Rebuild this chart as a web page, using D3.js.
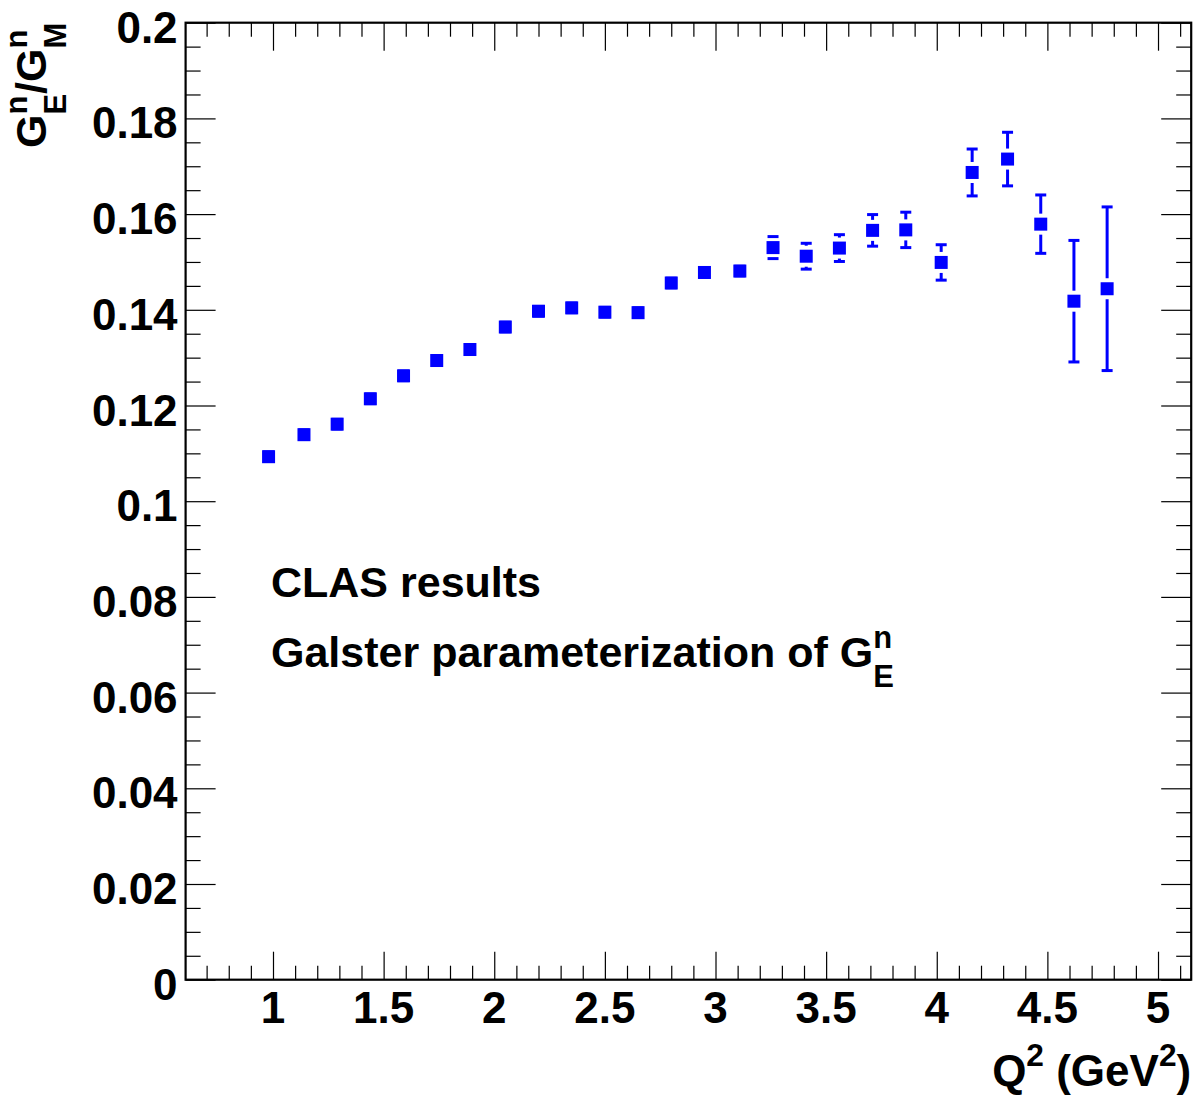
<!DOCTYPE html>
<html>
<head>
<meta charset="utf-8">
<script src="https://cdn.jsdelivr.net/npm/d3@7"></script>
<style>
  html, body { margin: 0; padding: 0; background: #fff; }
  svg text { font-family: "Liberation Sans", Arial, Helvetica, sans-serif; font-weight: bold; fill: #000; white-space: pre; }
</style>
</head>
<body>
<div id="chart"></div>
<script>
// ── Data: CLAS G_E^n / G_M^n ratio (Galster parameterization) ─────────────
const q2    = [0.98, 1.14, 1.29, 1.44, 1.59, 1.74, 1.89, 2.05, 2.20, 2.35, 2.50, 2.65, 2.80,
               2.95, 3.11, 3.26, 3.41, 3.56, 3.71, 3.86, 4.02, 4.16, 4.32, 4.47, 4.62, 4.77];
const ratio = [0.1093, 0.1139, 0.1161, 0.1214, 0.1262, 0.1294, 0.1317, 0.1364, 0.1397, 0.1404,
               0.1395, 0.1394, 0.1456, 0.1478, 0.1481, 0.1530, 0.1512, 0.1529, 0.1566, 0.1567,
               0.1499, 0.1687, 0.1715, 0.1579, 0.1418, 0.1444];
const err   = [0.001, 0.001, 0.001, 0.001, 0.001, 0.001, 0.001, 0.001, 0.001, 0.001,
               0.001, 0.001, 0.001, 0.001, 0.001, 0.0023, 0.0027, 0.0028, 0.0033, 0.0037,
               0.0037, 0.0049, 0.0056, 0.0061, 0.0127, 0.0171];

const xMajor = [1, 1.5, 2, 2.5, 3, 3.5, 4, 4.5, 5];
const yMajor = [0, 0.02, 0.04, 0.06, 0.08, 0.1, 0.12, 0.14, 0.16, 0.18, 0.2];
const xMinor = d3.range(7, 52).map(i => i / 10).filter(v => Math.abs(v * 2 - Math.round(v * 2)) > 1e-6);
const yMinor = d3.range(1, 40).map(i => i * 0.005).filter(v => Math.abs(v * 50 - Math.round(v * 50)) > 1e-6);

// ── Layout ────────────────────────────────────────────────────────────────
const W = 1196, H = 1101;
const L = 185.6, R = 1191.2, T = 22.7, B = 979.7;
const BLUE = '#0000ff';

const x = d3.scaleLinear().domain([0.605, 5.15]).range([L, R]);
const y = d3.scaleLinear().domain([0, 0.2]).range([B, T]);

const svg = d3.select('#chart').append('svg')
  .attr('width', W).attr('height', H);

// ── Ticks (inward, on all four sides) ─────────────────────────────────────
function ticks(axisFn, scale, vals, size, tr) {
  const g = svg.append('g').attr('transform', tr)
    .call(axisFn(scale).tickValues(vals).tickSize(size).tickFormat(''));
  g.select('.domain').remove();
  g.selectAll('.tick line').attr('stroke', '#000').attr('stroke-width', 1.2);
  return g;
}
ticks(d3.axisBottom, x, xMajor, -28, `translate(0,${B})`);
ticks(d3.axisBottom, x, xMinor, -14, `translate(0,${B})`);
ticks(d3.axisTop,    x, xMajor, -28, `translate(0,${T})`);
ticks(d3.axisTop,    x, xMinor, -14, `translate(0,${T})`);
ticks(d3.axisLeft,   y, yMajor, -30, `translate(${L},0)`);
ticks(d3.axisLeft,   y, yMinor, -15, `translate(${L},0)`);
ticks(d3.axisRight,  y, yMajor, -30, `translate(${R},0)`);
ticks(d3.axisRight,  y, yMinor, -15, `translate(${R},0)`);

// frame
svg.append('rect')
  .attr('x', L).attr('y', T).attr('width', R - L).attr('height', B - T)
  .attr('fill', 'none').attr('stroke', '#000').attr('stroke-width', 2.2);

// ── Tick labels ───────────────────────────────────────────────────────────
svg.append('g').selectAll('text').data(xMajor).join('text')
  .attr('x', d => x(d)).attr('y', B + 43)
  .attr('text-anchor', 'middle').attr('font-size', 44)
  .text(d => d3.format('')(d));

svg.append('g').selectAll('text').data(yMajor).join('text')
  .attr('x', L - 8).attr('y', d => y(d) + 20)
  .attr('text-anchor', 'end').attr('font-size', 44)
  .text(d => d3.format('')(d));

// ── Simple TLatex-like text: main runs plus stacked sup/sub ───────────────
function latex(g, parts, size) {
  let cx = 0;
  const small = size * 0.72;
  parts.forEach(p => {
    if (p.t != null) {
      const t = g.append('text').attr('x', cx).attr('y', 0).attr('font-size', size).text(p.t);
      cx += t.node().getComputedTextLength();
    } else {
      let w = 0;
      if (p.sup) {
        const t = g.append('text').attr('x', cx).attr('y', -size * 0.44)
          .attr('font-size', small).text(p.sup);
        w = Math.max(w, t.node().getComputedTextLength());
      }
      if (p.sub) {
        const t = g.append('text').attr('x', cx).attr('y', size * 0.47)
          .attr('font-size', small).text(p.sub);
        w = Math.max(w, t.node().getComputedTextLength());
      }
      cx += w;
    }
  });
  return cx;
}

// x-axis title, right aligned to the frame
const xt = svg.append('g');
const xtw = latex(xt, [{ t: 'Q' }, { sup: '2' }, { t: ' (GeV' }, { sup: '2' }, { t: ')' }], 44);
xt.attr('transform', `translate(${R - xtw},${B + 106})`);

// y-axis title, rotated, right aligned to the top of the frame
const yt = svg.append('g');
const ytw = latex(yt, [{ t: 'G' }, { sup: 'n', sub: 'E' }, { t: '/G' }, { sup: 'n', sub: 'M' }], 43);
yt.attr('transform', `translate(46,${T + ytw}) rotate(-90)`);

// annotations
const a1 = svg.append('g').attr('transform', 'translate(271,597)');
latex(a1, [{ t: 'CLAS results' }], 43);
const a2 = svg.append('g').attr('transform', 'translate(271,667)');
latex(a2, [{ t: 'Galster parameterization of G' }, { sup: 'n', sub: 'E' }], 43);

// ── Points with error bars ────────────────────────────────────────────────
const pts = q2.map((q, i) => ({ q, v: ratio[i], e: err[i] }));
const GAP = 10.5, CAP = 5.5, MS = 13;

const eg = svg.append('g').attr('stroke', BLUE).attr('stroke-width', 3);
pts.forEach(d => {
  const cx = x(d.q), cy = y(d.v);
  const top = y(d.v + d.e), bot = y(d.v - d.e);
  if (cy - top > GAP) eg.append('line').attr('x1', cx).attr('x2', cx).attr('y1', top).attr('y2', cy - GAP);
  if (bot - cy > GAP) eg.append('line').attr('x1', cx).attr('x2', cx).attr('y1', cy + GAP).attr('y2', bot);
  eg.append('line').attr('x1', cx - CAP).attr('x2', cx + CAP).attr('y1', top).attr('y2', top);
  eg.append('line').attr('x1', cx - CAP).attr('x2', cx + CAP).attr('y1', bot).attr('y2', bot);
});

svg.append('g').selectAll('rect').data(pts).join('rect')
  .attr('x', d => x(d.q) - MS / 2).attr('y', d => y(d.v) - MS / 2)
  .attr('width', MS).attr('height', MS)
  .attr('fill', BLUE);
</script>
</body>
</html>
